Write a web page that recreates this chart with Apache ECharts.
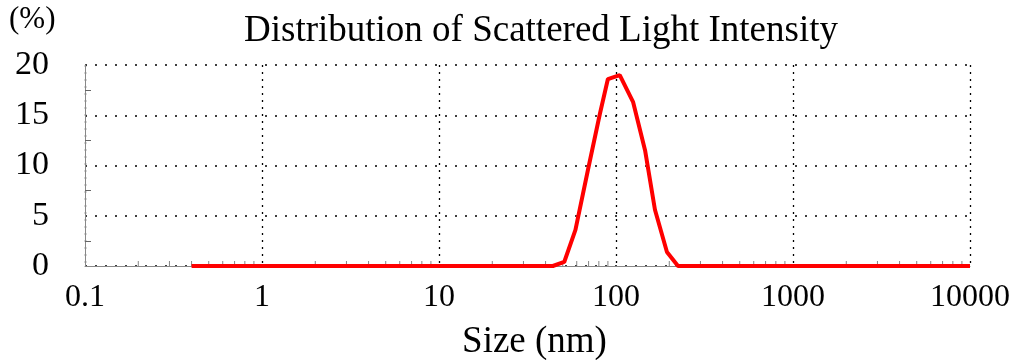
<!DOCTYPE html>
<html>
<head>
<meta charset="utf-8">
<script src="https://cdn.jsdelivr.net/npm/echarts@6/dist/echarts.min.js"></script>
<style>html,body{margin:0;padding:0;background:#fff}#c{width:1021px;height:360px}</style>
</head>
<body>
<div id="c"></div>
<script>
// Data
var sizes = [0.4, 44, 51, 59, 69.5, 81, 90, 105, 125, 146, 166, 194, 224, 10000];
var intensity = [0, 0, 0.4, 3.6, 9.6, 15.1, 18.6, 19.0, 16.3, 11.5, 5.6, 1.4, 0, 0];
var minorTickPositions = [0.2, 0.3, 0.4, 0.5, 0.6, 0.7, 0.8, 0.9,
  2, 3, 4, 5, 6, 7, 8, 9, 20, 30, 40, 50, 60, 70, 80, 90,
  200, 300, 400, 500, 600, 700, 800, 900, 2000, 3000, 4000, 5000, 6000, 7000, 8000, 9000];
var titleText = 'Distribution of Scattered Light Intensity';
var xName = 'Size (nm)';
var yUnit = '(%)';

var serif = '"Liberation Serif", "DejaVu Serif", serif';
var chart = echarts.init(document.getElementById('c'));
chart.setOption({
  animation: false,
  backgroundColor: '#fff',
  title: {
    text: titleText, left: 239, top: 8,
    textStyle: { fontFamily: serif, fontSize: 37, fontWeight: 'normal', color: '#000' }
  },
  graphic: [{
    type: 'text', left: 9, top: 4,
    style: { text: yUnit, font: '31px ' + serif, fill: '#000' }
  }],
  grid: { left: 85, right: 51, top: 65, bottom: 94, outerBoundsMode: 'none', containLabel: false },
  xAxis: {
    type: 'log', logBase: 10, min: 0.1, max: 10000,
    name: xName, nameLocation: 'middle', nameGap: 58,
    nameTextStyle: { fontFamily: serif, fontSize: 37, color: '#000', padding: [0, 0, 0, 14] },
    axisLine: { show: true, lineStyle: { color: '#888', width: 1 } },
    axisTick: { show: false },
    axisLabel: {
      fontFamily: serif, fontSize: 32, color: '#000', margin: 16,
      formatter: function (v) { return v < 1 ? v.toFixed(1) : String(Math.round(v)); }
    },
    splitLine: { show: true, lineStyle: { color: '#000', type: [2, 5], width: 1.3 } }
  },
  yAxis: {
    type: 'value', min: 0, max: 20, interval: 5,
    axisLine: { show: true, lineStyle: { color: '#888', width: 1 } },
    axisTick: { show: false, inside: true },
    minorTick: { show: true, splitNumber: 2, length: 6, lineStyle: { color: '#666' } },
    axisLabel: { fontFamily: serif, fontSize: 34, color: '#000', margin: 36 },
    splitLine: { show: true, lineStyle: { color: '#000', type: [2, 8], width: 1.5 } }
  },
  series: [{
    type: 'scatter',
    data: minorTickPositions.map(function (p) { return [p, 0]; }),
    symbol: 'rect', symbolSize: [1, 5], symbolOffset: [0, -2.5],
    itemStyle: { color: '#666' }, silent: true, z: 1
  }, {
    type: 'line',
    data: sizes.map(function (s, i) { return [s, intensity[i]]; }),
    showSymbol: false, symbol: 'none',
    lineStyle: { color: '#ff0000', width: 4 },
    z: 3
  }]
});
</script>
</body>
</html>
